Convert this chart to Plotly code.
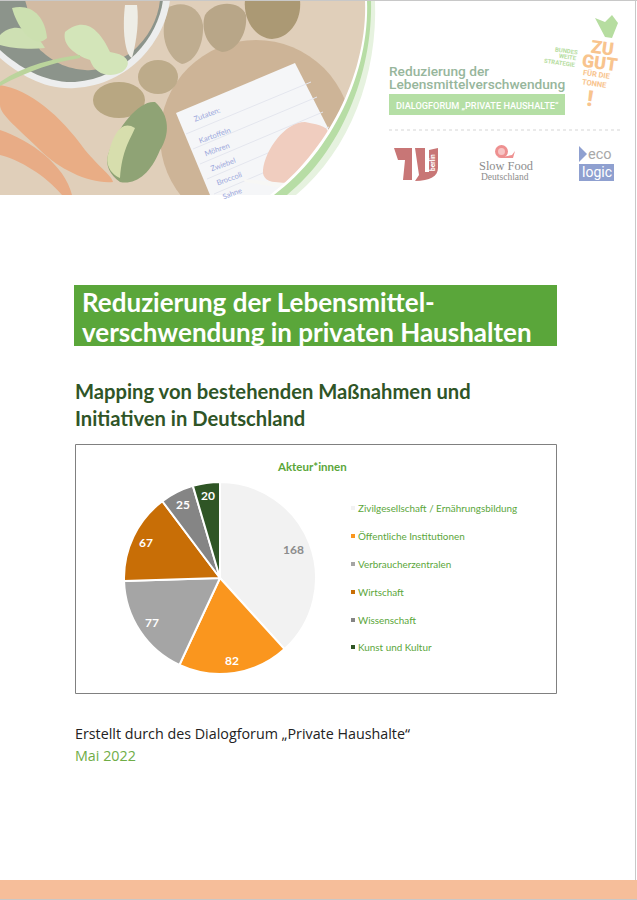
import plotly.graph_objects as go

# chart data
categories = ["Zivilgesellschaft / Ernährungsbildung", "Öffentliche Institutionen", "Verbraucherzentralen",
              "Wirtschaft", "Wissenschaft", "Kunst und Kultur"]
values = [168, 82, 77, 67, 25, 20]
slice_colors = ["#F2F2F2", "#FA961E", "#A5A5A5", "#C86E06", "#858585", "#2F5525"]
label_colors = ["#8C8C8C", "white", "white", "white", "white", "white"]
label_x = [293, 232, 152, 146, 183, 208]
label_y = [549, 660, 622, 542, 504, 495]
legend_y = [508, 536, 564, 592, 620, 647]

W, H = 637, 900
GREEN = "#5AA63A"
DARK = "#2F5527"

shapes = []
notes = []

def rect(x0, y0, x1, y1, fill, line=None, width=0):
    shapes.append(dict(type="rect", x0=x0, y0=y0, x1=x1, y1=y1, fillcolor=fill,
                       line=dict(color=line or fill, width=width)))

def oval(x0, y0, x1, y1, fill, line=None, width=0):
    shapes.append(dict(type="circle", x0=x0, y0=y0, x1=x1, y1=y1, fillcolor=fill,
                       line=dict(color=line or fill, width=width)))

def path(d, fill="rgba(0,0,0,0)", line=None, width=0):
    shapes.append(dict(type="path", path=d, fillcolor=fill,
                       line=dict(color=line or "rgba(0,0,0,0)", width=width)))

def text(x, y, s, size, color, font="Lato", weight=400, anchor="left", angle=0):
    # annotations carry about 2px of padding on the left
    if anchor == "left":
        x -= 2
    notes.append(dict(x=x, y=y, text=s, showarrow=False, xanchor=anchor, yanchor="middle", textangle=angle,
                      font=dict(family=font, size=size, color=color, weight=weight)))

# photo in the header
rect(0, 0, 375, 195, "#E0CFBA")
oval(160, 40, 352, 232, "#CDB497")
path("M168 8 C180 0 200 5 203 25 C204 45 195 62 182 64 C170 60 160 40 165 20 Z", "#BFAD90")
path("M205 15 C215 0 240 0 246 15 C248 35 235 52 222 52 C208 48 200 30 205 15 Z", "#B8A688")
path("M245 0 L300 0 C302 20 290 38 272 39 C255 38 243 20 245 0 Z", "#AB9974")
oval(138, 60, 178, 94, "#BDAB8A")
oval(93, 82, 145, 118, "#B8A782")
path("M0 85 C30 90 60 115 85 150 C100 168 112 176 113 182 C90 184 60 170 40 150 C20 130 0 115 0 105 Z", "#E9AD85")
path("M0 130 C30 140 65 165 72 195 L62 195 C45 175 20 160 0 155 Z", "#E8AC86")
# bowl
path("M0 0 L170 0 C165 40 130 85 75 88 C45 90 20 75 0 58 Z", "#EDEEEE")
path("M0 0 L163 0 C158 38 125 78 75 82 C45 83 20 68 0 50 Z", "#8C948B")
path("M25 0 L160 0 C158 20 148 38 132 52 C115 62 100 72 85 70 C60 68 50 58 40 50 C30 30 30 15 25 0 Z", "#D2BBA3")
path("M0 35 C15 20 35 30 45 48 C30 50 10 48 0 45 Z", "#CEE0B3")
path("M12 8 C30 3 45 15 47 38 C35 50 18 30 12 8 Z", "#CCE0B0")
path("M65 32 C85 15 100 30 110 52 C130 55 132 65 122 72 C110 78 95 75 90 60 C75 55 62 45 65 32 Z", "#D3E5B9")
path("M125 5 L137 5 C139 20 137 40 132 58 C125 55 122 30 125 5 Z", "#EEEDE6")
path("M0 82 C25 65 55 58 80 55 L80 58 C55 62 30 70 0 86 Z", "#BBD49C")
# broccoli
path("M108 155 C118 125 140 100 155 102 C170 115 170 135 160 150 C150 175 135 185 120 182 C110 175 105 165 108 155 Z", "#8FA375")
path("M108 155 C114 132 122 120 135 128 C130 140 122 150 120 178 C112 175 105 165 108 155 Z", "#D7DEAD")
# shopping note
path("M176 113 L295 63 L328 128 L350 195 L210 195 Z", "#F5F6F8")
for n in range(5):
    shapes.append(dict(type="line", x0=186 + n * 7, y0=134 + n * 15, x1=311 + n * 6, y1=82 + n * 15,
                       line=dict(color="#E4E6EE", width=1)))
for i, s in enumerate(["Kartoffeln", "Möhren", "Zwiebel", "Broccoli", "Sahne"]):
    text(197 + i * 6, 135 + i * 14.5, s, 7.5, "#9CA8DC", angle=-20)
text(192, 114, "Zutaten:", 7.5, "#9CA8DC", angle=-20)
# hand
path("M263 170 C265 150 285 122 305 122 C322 125 330 128 328 135 L300 175 C295 180 285 184 278 183 C268 182 262 178 263 170 Z", "#F0CDBF")
path("M243 179 L285 183 L283 188 L245 182 Z", "#F7F7F5")

# white page around the photo, then the green arcs
path("M365 0 C368 70 330 150 270 195 L640 195 L640 -2 L365 -2 Z", "white")
rect(0, 195, W, 282, "white")
path("M370 0 C373 75 335 155 279 195 L296 195 C350 150 378 75 375 0 Z", "#E6F2DF")
path("M367 0 C370 72 332 152 274 195 L287 195 C340 152 373 75 371 0 Z", "#B7DDA5")

# project title block
text(389, 71, "Reduzierung der", 13.7, "#97B69C", font="Roboto", weight=500)
text(389, 84, "Lebensmittelverschwendung", 13.7, "#97B69C", font="Roboto", weight=500)
rect(389, 94, 565, 115, "#B5DFA5")
text(396, 105, "DIALOGFORUM „PRIVATE HAUSHALTE“", 9.2, "white", font="Roboto", weight=500)
shapes.append(dict(type="line", x0=389, y0=130, x1=620, y1=130, line=dict(color="#D5D5D5", width=1, dash="dot")))

# carrot logo
path("M595 18 L605 22 L612 15 L618 23 L612 38 L605 37 Z", "#B6DDA0")
text(602, 47, "ZU", 18, "#F8C48E", font="Roboto", weight=900, anchor="center", angle=8)
text(600, 62, "GUT", 18, "#F8C48E", font="Roboto", weight=900, anchor="center", angle=8)
text(597, 74, "FÜR DIE", 7.5, "#F8C48E", font="Roboto", weight=700, anchor="center", angle=8)
text(594, 83, "TONNE", 7.5, "#F8C48E", font="Roboto", weight=700, anchor="center", angle=8)
text(590, 98, "!", 22, "#F8C48E", font="Roboto", weight=900, anchor="center", angle=8)
text(566, 50, "BUNDES", 6, "#B6DDA0", font="Roboto", weight=700, anchor="center", angle=8)
text(568, 56, "WEITE", 6, "#B6DDA0", font="Roboto", weight=700, anchor="center", angle=8)
text(560, 62, "STRATEGIE", 6, "#B6DDA0", font="Roboto", weight=700, anchor="center", angle=8)

# partner logos
path("M394 148 L412 148 L412 180 L403 180 L405 160 L398 160 Z", "#C87676")
path("M415 148 L425 148 L425 172 L429 172 L429 150 L438 148 L438 168 C438 176 430 181 415 181 L419 175 Z", "#C87676")
text(433, 163, "berlin", 6.5, "white", font="Roboto", weight=700, anchor="center", angle=-90)
oval(495, 145, 508, 158, "#EE9090")
oval(498, 148, 505, 155, "#F7C4C4")
path("M497 158 L513 158 L515 151 L512 155 Z", "#EE9090")
text(506, 166, "Slow Food", 12.4, "#8C8C8C", font="Liberation Serif", anchor="center")
text(505, 177, "Deutschland", 9.5, "#8C8C8C", font="Liberation Serif", anchor="center")
path("M579 146 L579 162 L587 154 Z", "#8FA0D0")
text(588, 154, "eco", 14.5, "#A8A8A8", font="Roboto")
rect(579, 164, 614, 181, "#8FA0D0")
text(597, 172, "logic", 14, "white", font="Roboto", anchor="center")

# headings
rect(74, 285, 557, 346, GREEN)
text(82, 302, "Reduzierung der Lebensmittel-", 26, "white", weight=700)
text(82, 332, "verschwendung in privaten Haushalten", 26, "white", weight=700)
text(75, 391, "Mapping von bestehenden Maßnahmen und", 20.2, DARK, weight=700)
text(75, 418, "Initiativen in Deutschland", 20.2, DARK, weight=700)

# chart frame, title and legend
rect(75.5, 444.5, 556.5, 693.5, "white", line="#808080", width=1)
text(312, 466, "Akteur*innen", 11.5, GREEN, weight=700, anchor="center")
for cat, col, y in zip(categories, slice_colors, legend_y):
    rect(351, y - 2, 355, y + 2, col)
    text(358, y, cat, 9.9, GREEN)
for v, col, x, y in zip(values, label_colors, label_x, label_y):
    text(x, y, str(v), 12, col, weight=700, anchor="center")

# footer
text(75, 733, "Erstellt durch des Dialogforum „Private Haushalte“", 14.3, "#222222", font="Open Sans")
text(75, 755, "Mai 2022", 14.3, "#70AD47", font="Open Sans")
rect(0, 880, W, H - 1, "#F6BE9A")

# page edge
shapes.append(dict(type="line", x0=0, y0=0.5, x1=W, y1=0.5, line=dict(color="#C8C8C8", width=1)))
shapes.append(dict(type="line", x0=635.5, y0=0, x1=635.5, y1=880, line=dict(color="#C8C8C8", width=1)))
shapes.append(dict(type="line", x0=0, y0=899.5, x1=W, y1=899.5, line=dict(color="#C8C8C8", width=1)))

fig = go.Figure()
# empty trace so the pixel axes below exist
fig.add_trace(go.Scatter(x=[None], y=[None], showlegend=False, hoverinfo="skip"))
fig.add_trace(go.Pie(
    labels=categories, values=values, sort=False, direction="clockwise", rotation=0,
    marker=dict(colors=slice_colors, line=dict(color="white", width=2)),
    textinfo="none",
    domain=dict(x=[124 / W, 316 / W], y=[1 - 674 / H, 1 - 482 / H]),
    showlegend=False,
))
fig.update_layout(
    width=W, height=H, margin=dict(l=0, r=0, t=0, b=0),
    paper_bgcolor="white", plot_bgcolor="white",
    xaxis=dict(range=[0, W], visible=False, fixedrange=True, domain=[0, 1]),
    yaxis=dict(range=[H, 0], visible=False, fixedrange=True, domain=[0, 1]),
    shapes=[dict(s, xref="x", yref="y", layer="below") for s in shapes],
    annotations=[dict(a, xref="x", yref="y") for a in notes],
)
fig.write_html("out.html", config=dict(displayModeBar=False),
               post_script="document.body.style.margin='0';document.body.style.overflow='hidden';")
